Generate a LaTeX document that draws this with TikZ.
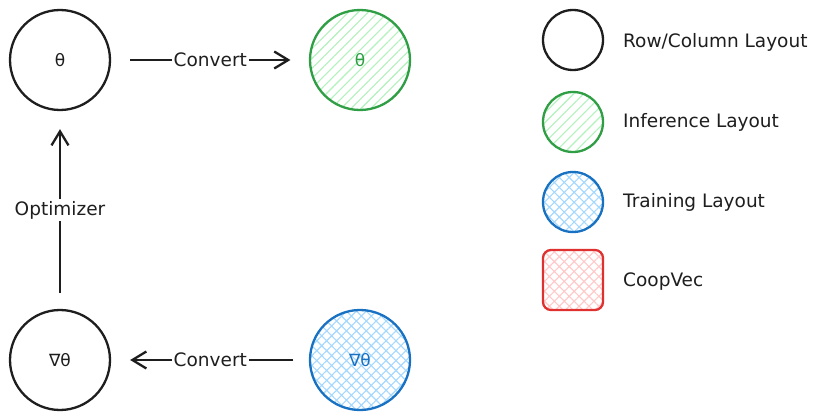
\documentclass[tikz,border=0pt]{standalone}
\usepackage{fontspec}
\setmainfont{DejaVu Sans}
\usetikzlibrary{arrows.meta,patterns.meta}

\definecolor{sketchInk}{RGB}{30,30,30}
\definecolor{sketchGreen}{RGB}{47,158,68}
\definecolor{sketchGreenFill}{RGB}{178,242,187}
\definecolor{sketchBlue}{RGB}{25,113,194}
\definecolor{sketchBlueFill}{RGB}{165,216,255}
\definecolor{sketchRed}{RGB}{224,49,49}
\definecolor{sketchRedFill}{RGB}{255,201,201}

\begin{document}
\begin{tikzpicture}[x=1pt,y=-1pt,
      tensor/.style={circle, draw=sketchInk, line width=2.3pt,
        minimum size=100pt, inner sep=0pt,
        font=\fontsize{17}{19}\selectfont, text=sketchInk},
      inference/.style={tensor, draw=sketchGreen, text=sketchGreen,
        pattern={Lines[angle=45,distance=7pt,line width=1.1pt]},
        pattern color=sketchGreenFill},
      training/.style={tensor, draw=sketchBlue, text=sketchBlue,
        pattern={Hatch[angle=45,distance=7pt,line width=1.1pt]},
        pattern color=sketchBlueFill},
      swatch/.style={minimum size=60pt},
      legend/.style={font=\fontsize{18.5}{20}\selectfont,
        text=sketchInk, anchor=west, inner sep=0pt},
      link/.style={draw=sketchInk, line width=2.3pt,
        -{Straight Barb[length=14pt,width=17pt]}},
      linklabel/.style={fill=white, inner sep=2pt,
        font=\fontsize{18.5}{20}\selectfont, text=sketchInk}]
      \useasboundingbox (0,0) rectangle (823,420);
      \fill[white] (0,0) rectangle (823,420);

      % parameters and gradients
      \node[tensor] (theta) at (60,60) {θ};
      \node[inference] (thetaInf) at (360,60) {θ};
      \node[tensor] (grad) at (60,360) {∇θ};
      \node[training] (gradTrain) at (360,360) {∇θ};

      \draw[link, shorten <=19pt, shorten >=19pt]
        (theta) -- node[linklabel] {Convert} (thetaInf);
      \draw[link, shorten <=16pt, shorten >=19pt]
        (gradTrain) -- node[linklabel] {Convert} (grad);
      \draw[link, shorten <=16pt, shorten >=18pt]
        (grad) -- node[linklabel] {Optimizer} (theta);

      % legend
      \node[tensor, swatch] (legRow) at (573,40) {};
      \node[inference, swatch] (legInf) at (573,122) {};
      \node[training, swatch] (legTrain) at (573,202) {};
      \node[training, swatch, rectangle, draw=sketchRed,
        rounded corners=8pt, pattern color=sketchRedFill]
        (legCoop) at (573,280) {};

      \node[legend] (legRowText) at (623,42) {Row/Column Layout};
      \node[legend] (legInfText) at (623,122) {Inference Layout};
      \node[legend] (legTrainText) at (623,202) {Training Layout};
      \node[legend] (legCoopText) at (623,282) {CoopVec};
    \end{tikzpicture}
\end{document}
